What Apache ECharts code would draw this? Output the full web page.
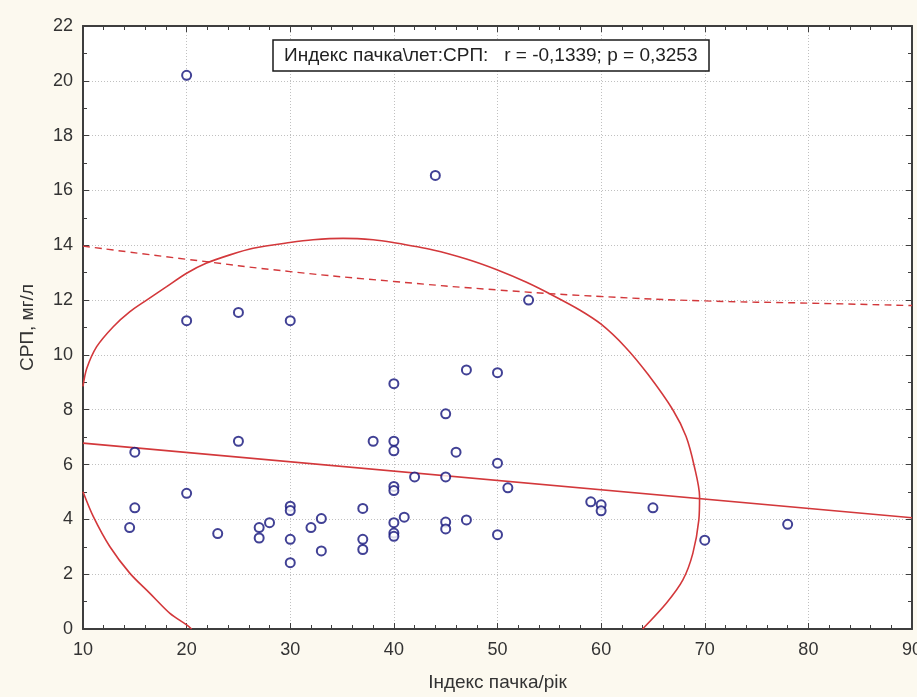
<!DOCTYPE html>
<html>
<head>
<meta charset="utf-8">
<title>СРП vs Індекс пачка/рік</title>
<script src="https://cdn.jsdelivr.net/npm/echarts@6/dist/echarts.min.js"></script>
<style>
  html, body { margin: 0; padding: 0; background: #fcf9ef; }
  #chart { width: 917px; height: 697px; }
</style>
</head>
<body>
<div id="chart"></div>
<script>
// Pack-year index of each patient and their CRP level (mg/l)
const packYears = [
  20, 44, 53, 20, 25, 30, 40, 47, 50, 45,
  38, 40, 40, 46, 50, 25, 15, 42, 45, 51,
  40, 40, 37, 40, 41, 45, 45, 47, 50, 40,
  40, 37, 37, 14.5, 15, 20, 23, 27, 27, 28,
  30, 30, 30, 30, 32, 33, 33, 59, 60, 60,
  65, 70, 78
];
const crp = [
  20.2, 16.55, 12.0, 11.25, 11.55, 11.25, 8.95, 9.45, 9.35, 7.85,
  6.85, 6.85, 6.5, 6.45, 6.05, 6.85, 6.45, 5.55, 5.55, 5.15,
  5.2, 5.05, 4.4, 3.88, 4.08, 3.9, 3.65, 3.98, 3.44, 3.5,
  3.38, 3.27, 2.9, 3.7, 4.42, 4.95, 3.48, 3.7, 3.32, 3.88,
  4.48, 4.32, 3.27, 2.42, 3.7, 4.03, 2.85, 4.64, 4.53, 4.31,
  4.42, 3.24, 3.82
];

// Fitted regression line (end points)
const regressionLine = [[10, 6.78], [90, 4.06]];

// Upper dashed band
const upperBand = [
  [10, 13.97], [20, 13.49], [30, 13.04], [40, 12.68], [50, 12.37],
  [60, 12.13], [70, 11.97], [80, 11.89], [90, 11.8]
];

// 95% ellipse, visible parts
const ellipseMain = [
  [10, 8.85], [10.36, 9.5], [11.32, 10.3], [12.92, 11.03], [14.53, 11.58],
  [16.14, 12.0], [18.07, 12.49], [20.0, 12.98], [21.93, 13.35], [24.18, 13.65],
  [26.42, 13.89], [29.96, 14.1], [32.2, 14.2], [35.1, 14.25], [38.0, 14.2],
  [39.92, 14.1], [43.78, 13.83], [47.0, 13.5], [50.0, 13.1], [52.8, 12.65],
  [55.35, 12.17], [57.93, 11.64], [60.0, 11.12], [62.3, 10.3], [64.5, 9.3],
  [66.93, 7.99], [68.2, 7.02], [69.0, 5.92], [69.5, 4.83], [69.43, 3.98],
  [68.85, 2.76], [67.89, 1.79], [66.29, 0.94], [64.0, 0]
];
const ellipseLower = [
  [10, 5.01], [11.0, 4.1], [12.6, 3.0], [14.53, 2.03], [16.46, 1.3],
  [18.39, 0.57], [20.0, 0.15], [20.48, 0]
];

// Axis ranges and tick spacing
const xRange = [10, 90], xStep = 10;
const yRange = [0, 22], yStep = 2;

const statsText = 'Индекс пачка\\лет:СРП:   r = -0,1339; p = 0,3253';
const xName = 'Індекс пачка/рік';
const yName = 'СРП, мг/л';

const FONT = '"Liberation Sans", Arial, sans-serif';
const RED = '#d3383b';
const FRAME = '#3e3e3e';
const TEXT = '#333333';

const points = packYears.map((x, i) => [x, crp[i]]);

const chart = echarts.init(document.getElementById('chart'), null, { renderer: 'canvas' });

const baseAxis = {
  axisLine: { show: true, onZero: false, lineStyle: { color: FRAME, width: 2 } },
  axisTick: { show: true, inside: true, length: 6, lineStyle: { color: FRAME, width: 1 } },
  minorTick: { show: true, length: 4, lineStyle: { color: FRAME, width: 1 } }
};

chart.setOption({
  animation: false,
  backgroundColor: '#fcf9ef',
  textStyle: { fontFamily: FONT },
  title: {
    text: statsText,
    left: 273,
    top: 40,
    padding: [5, 12, 4, 11],
    borderColor: '#1a1a1a',
    borderWidth: 1.5,
    backgroundColor: '#ffffff',
    textStyle: { fontFamily: FONT, fontSize: 19, fontWeight: 'normal', color: '#222', lineHeight: 22 }
  },
  grid: {
    left: 83, right: 5, top: 26, bottom: 68,
    outerBoundsMode: 'none', containLabel: false,
    show: true, backgroundColor: '#ffffff', borderWidth: 0
  },
  xAxis: [
    Object.assign({}, baseAxis, {
      type: 'value', min: xRange[0], max: xRange[1], interval: xStep,
      position: 'bottom',
      minorTick: Object.assign({}, baseAxis.minorTick, { splitNumber: 5 }),
      name: xName, nameLocation: 'middle', nameGap: 44,
      nameTextStyle: { fontFamily: FONT, fontSize: 19, color: TEXT },
      axisLabel: { fontFamily: FONT, fontSize: 18, color: TEXT, margin: 12 },
      splitLine: { show: true, lineStyle: { color: '#c0c0c0', type: [1, 2], width: 1 } }
    }),
    Object.assign({}, baseAxis, {
      type: 'value', min: xRange[0], max: xRange[1], interval: xStep,
      position: 'top',
      minorTick: Object.assign({}, baseAxis.minorTick, { splitNumber: 5 }),
      axisLabel: { show: false },
      splitLine: { show: false }
    })
  ],
  yAxis: [
    Object.assign({}, baseAxis, {
      type: 'value', min: yRange[0], max: yRange[1], interval: yStep,
      position: 'left',
      minorTick: Object.assign({}, baseAxis.minorTick, { splitNumber: 2 }),
      name: yName, nameLocation: 'middle', nameGap: 46, nameRotate: 90,
      nameTextStyle: { fontFamily: FONT, fontSize: 19, color: TEXT },
      axisLabel: { fontFamily: FONT, fontSize: 18, color: TEXT, margin: 10 },
      splitLine: { show: true, lineStyle: { color: '#c0c0c0', type: [1, 2], width: 1 } }
    }),
    Object.assign({}, baseAxis, {
      type: 'value', min: yRange[0], max: yRange[1], interval: yStep,
      position: 'right',
      minorTick: Object.assign({}, baseAxis.minorTick, { splitNumber: 2 }),
      axisLabel: { show: false },
      splitLine: { show: false }
    })
  ],
  series: [
    {
      type: 'line', name: 'ellipse', data: ellipseMain, smooth: 0.3,
      showSymbol: false, clip: true, z: 2,
      lineStyle: { color: RED, width: 1.6 }
    },
    {
      type: 'line', name: 'ellipse-lower', data: ellipseLower, smooth: 0.3,
      showSymbol: false, clip: true, z: 2,
      lineStyle: { color: RED, width: 1.6 }
    },
    {
      type: 'line', name: 'band', data: upperBand, smooth: true,
      showSymbol: false, clip: true, z: 2,
      lineStyle: { color: RED, width: 1.4, type: [7, 5] }
    },
    {
      type: 'line', name: 'regression', data: regressionLine,
      showSymbol: false, clip: true, z: 2,
      lineStyle: { color: RED, width: 1.6 }
    },
    {
      type: 'scatter', name: 'CRP', data: points, z: 3,
      symbol: 'circle', symbolSize: 9,
      itemStyle: { color: '#ffffff', borderColor: '#12127a', borderWidth: 2 }
    }
  ]
});
</script>
</body>
</html>
